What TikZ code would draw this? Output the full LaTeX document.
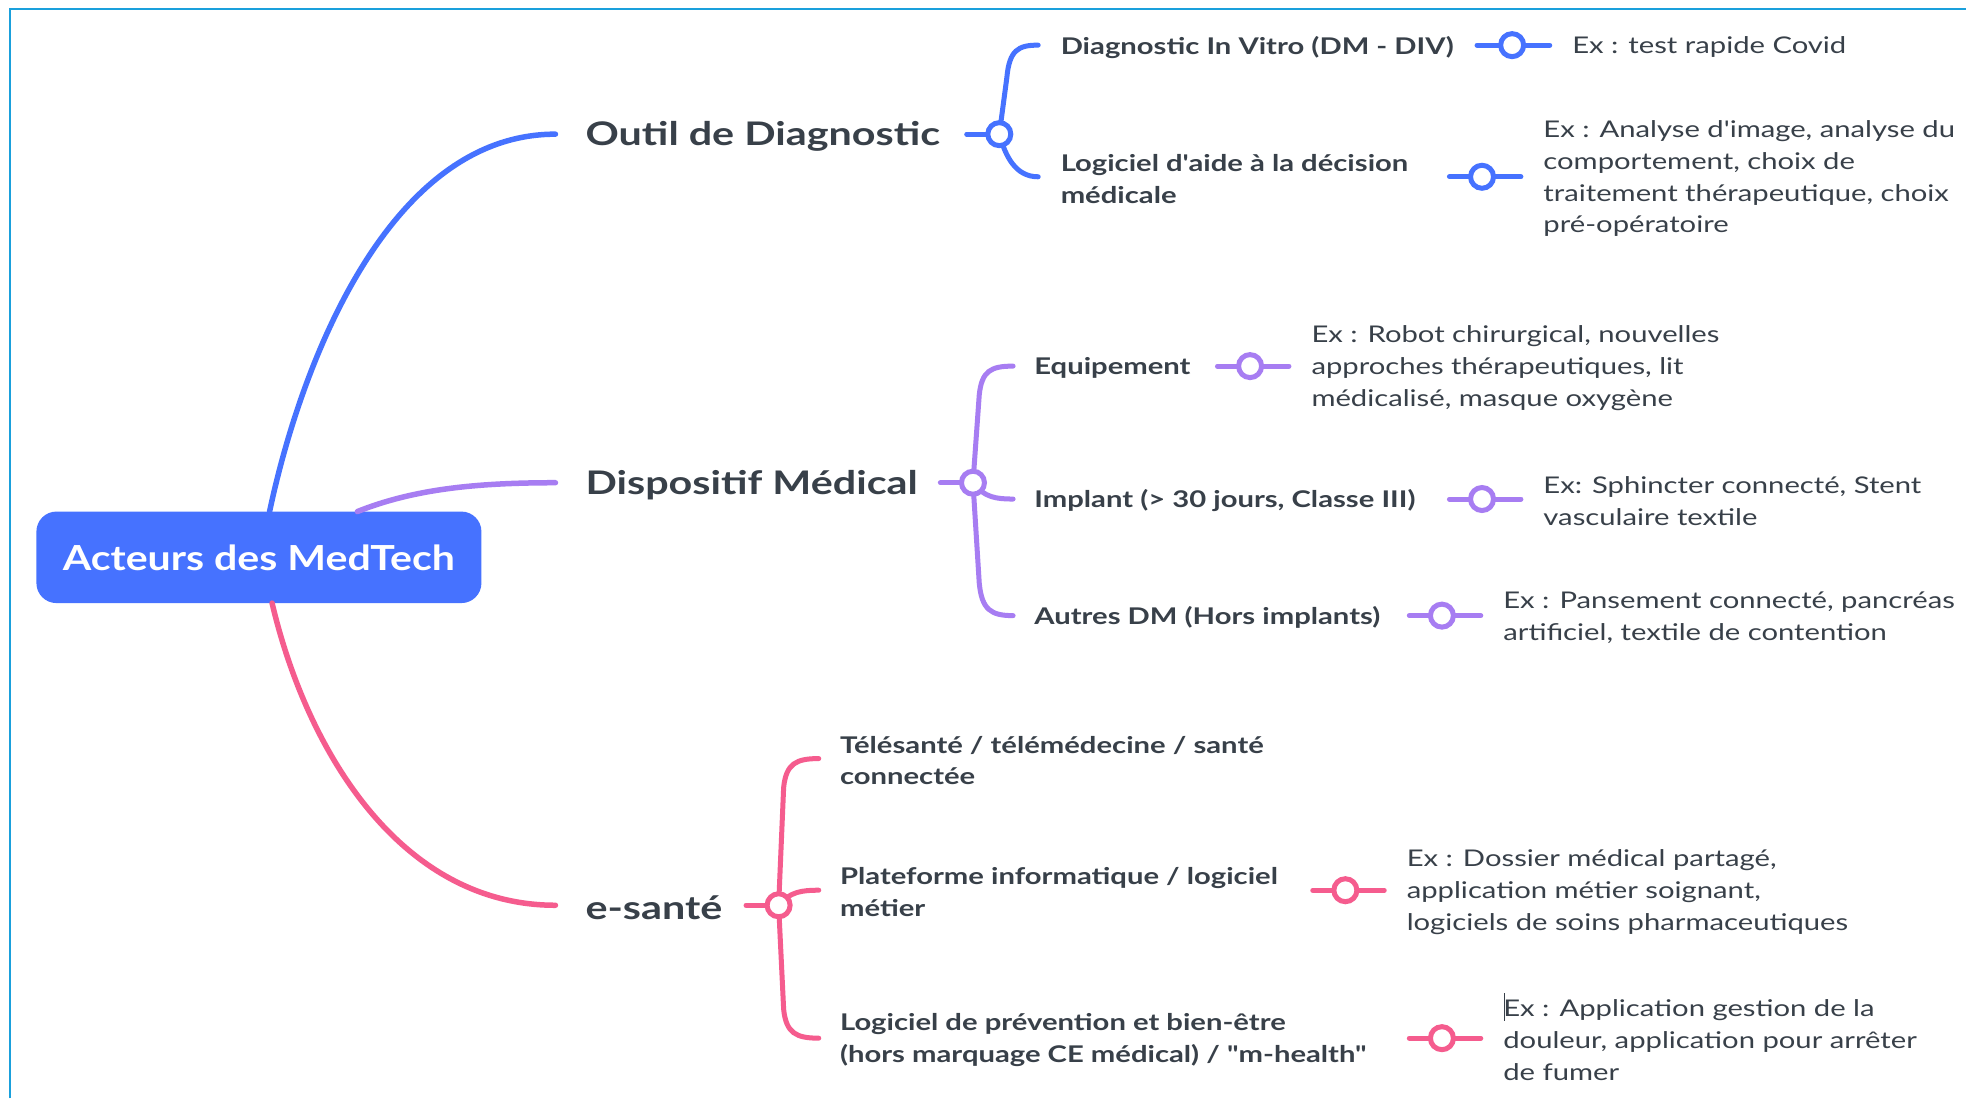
\documentclass[tikz,border=0pt]{standalone}
\usepackage{fontspec}
\setmainfont{Lato}
\newfontfamily\widefont[FakeStretch=1.27]{Lato}
\newfontfamily\rootfont[FakeStretch=1.19]{Lato}
\usetikzlibrary{calc}
\definecolor{cblue}{HTML}{4672FF}
\definecolor{cpurple}{HTML}{A77DF2}
\definecolor{cpink}{HTML}{F55C8E}
\definecolor{ctext}{HTML}{384049}
\definecolor{cframe}{HTML}{1AA0DC}
\begin{document}
\begin{tikzpicture}[x=1.2538pt,y=-1.2538pt,
  every node/.style={inner sep=0pt, outer sep=0pt},
  rootbox/.style={fill=cblue, rounded corners=20pt, minimum width=445pt, minimum height=91.5pt, text=white, font=\rootfont\fontsize{34.5}{42}\selectfont\bfseries},
  title/.style={anchor=west, yshift=-2pt, text=ctext, font=\widefont\fontsize{32.5}{38}\selectfont\bfseries},
  child/.style={anchor=west, yshift=-2pt, text=ctext, align=left, font=\widefont\fontsize{23}{31.7}\selectfont\bfseries},
  example/.style={anchor=west, yshift=-2pt, text=ctext, align=left, font=\widefont\fontsize{23}{31.7}\selectfont},
  branch/.style={line width=5.5pt, line cap=round, #1},
  link/.style={line width=5pt, line cap=round, #1},
  dot/.style={circle, draw=#1, fill=white, line width=5pt, minimum size=23pt}]
\useasboundingbox (0,0) rectangle (1568,876);
\fill[white] (0,0) rectangle (1568,876);
\draw[cframe, line width=2pt] (8,876) -- (8,7) -- (1568,7);

% root
\node[rootbox] (root) at (206.5,444.5) {Acteurs des MedTech};

% main titles
\node[title] (t1) at (467,107) {Outil de Diagnostic};
\node[title] (t2) at (467,385) {Dispositif Médical};
\node[title] (t3) at (467,722) {e-santé};

\coordinate (r1) at ($(root.north)+(8.5,0)$);
\coordinate (r2) at ($(root.north)+(78.5,0)$);
\coordinate (r3) at ($(root.south)+(10.5,0)$);
\coordinate (t1in) at (443,107);
\coordinate (t2in) at (443,385);
\coordinate (t3in) at (443,722);
\draw[branch=cblue] (r1) .. controls (240,290) and (310,107) .. (t1in);
\draw[branch=cpurple] (r2) .. controls (330,390) and (380,385) .. (t2in);
\draw[branch=cpink] (r3) .. controls (245,600) and (320,722) .. (t3in);

% children
\node[child] (a1) at (846,36) {Diagnostic In Vitro (DM - DIV)};
\node[child] (a2) at (846,141) {Logiciel d'aide à la décision\\médicale};
\node[child] (b1) at (825,292) {Equipement};
\node[child] (b2) at (825,398) {Implant (> 30 jours, Classe III)};
\node[child] (b3) at (825,491) {Autres DM (Hors implants)};
\node[child] (d1) at (670,605) {Télésanté / télémédecine / santé\\connectée};
\node[child] (d2) at (670,710) {Plateforme informatique / logiciel\\métier};
\node[child] (d3) at (670,828) {Logiciel de prévention et bien-être\\(hors marquage CE médical) / "m-health"};

% examples
\node[example] (e1) at (1254,36) {Ex : test rapide Covid};
\node[example] (e2) at (1231,141) {Ex : Analyse d'image, analyse du\\comportement, choix de\\traitement thérapeutique, choix\\pré-opératoire};
\node[example] (f1) at (1046,292) {Ex : Robot chirurgical, nouvelles\\approches thérapeutiques, lit\\médicalisé, masque oxygène};
\node[example] (f2) at (1231,398) {Ex: Sphincter connecté, Stent\\vasculaire textile};
\node[example] (f3) at (1199,491) {Ex : Pansement connecté, pancréas\\artificiel, textile de contention};
\node[example] (g2) at (1122,710) {Ex : Dossier médical partagé,\\application métier soignant,\\logiciels de soins pharmaceutiques};
\node[example] (g3) at (1199,828) {Ex : Application gestion de la\\douleur, application pour arrêter\\de fumer};
\coordinate (cur1) at (1200,792);
\coordinate (cur2) at (1200,814);
\draw[line width=1pt, ctext] (cur1) -- (cur2);

% ---- blue bracket
\coordinate (c1) at (797,107);
\coordinate (t1out) at (771,107);
\coordinate (a1in) at (828,36);
\coordinate (a2in) at (828,141);
\draw[link=cblue] (t1out) -- (c1);
\draw[link=cblue] (c1) -- (803,62) .. controls (805,40) and (812,36) .. (a1in);
\draw[link=cblue] (c1) .. controls (802,125) and (810,141) .. (a2in);
\node[dot=cblue] (k1) at (c1) {};

% ---- purple bracket
\coordinate (c2) at (776,385);
\coordinate (t2out) at (750,385);
\coordinate (b1in) at (808,292);
\coordinate (b2in) at (808,398);
\coordinate (b3in) at (808,491);
\draw[link=cpurple] (t2out) -- (c2);
\draw[link=cpurple] (c2) -- (781,315) .. controls (783,296) and (790,292) .. (b1in);
\draw[link=cpurple] (c2) .. controls (785,397) and (795,398) .. (b2in);
\draw[link=cpurple] (c2) -- (781,465) .. controls (783,486) and (790,491) .. (b3in);
\node[dot=cpurple] (k2) at (c2) {};

% ---- pink bracket
\coordinate (c3) at (621,722);
\coordinate (t3out) at (595,722);
\coordinate (d1in) at (653,605);
\coordinate (d2in) at (653,710);
\coordinate (d3in) at (653,828);
\draw[link=cpink] (t3out) -- (c3);
\draw[link=cpink] (c3) -- (625,628) .. controls (627,609) and (635,605) .. (d1in);
\draw[link=cpink] (c3) .. controls (630,711) and (640,710) .. (d2in);
\draw[link=cpink] (c3) -- (625,805) .. controls (627,824) and (635,828) .. (d3in);
\node[dot=cpink] (k3) at (c3) {};

% ---- child-to-example connectors
\coordinate (a1o) at (1178,36);  \coordinate (e1i) at (1236,36);
\draw[link=cblue] (a1o) -- (e1i);  \node[dot=cblue] (m1) at (1206,36) {};
\coordinate (a2o) at (1156,141); \coordinate (e2i) at (1213,141);
\draw[link=cblue] (a2o) -- (e2i);  \node[dot=cblue] (m2) at (1182,141) {};
\coordinate (b1o) at (971,292);  \coordinate (f1i) at (1028,292);
\draw[link=cpurple] (b1o) -- (f1i);  \node[dot=cpurple] (m3) at (997,292) {};
\coordinate (b2o) at (1156,398); \coordinate (f2i) at (1213,398);
\draw[link=cpurple] (b2o) -- (f2i);  \node[dot=cpurple] (m4) at (1182,398) {};
\coordinate (b3o) at (1124,491); \coordinate (f3i) at (1181,491);
\draw[link=cpurple] (b3o) -- (f3i);  \node[dot=cpurple] (m5) at (1150,491) {};
\coordinate (d2o) at (1047,710); \coordinate (g2i) at (1104,710);
\draw[link=cpink] (d2o) -- (g2i);  \node[dot=cpink] (m6) at (1073,710) {};
\coordinate (d3o) at (1124,828); \coordinate (g3i) at (1181,828);
\draw[link=cpink] (d3o) -- (g3i);  \node[dot=cpink] (m7) at (1150,828) {};
\end{tikzpicture}
\end{document}
